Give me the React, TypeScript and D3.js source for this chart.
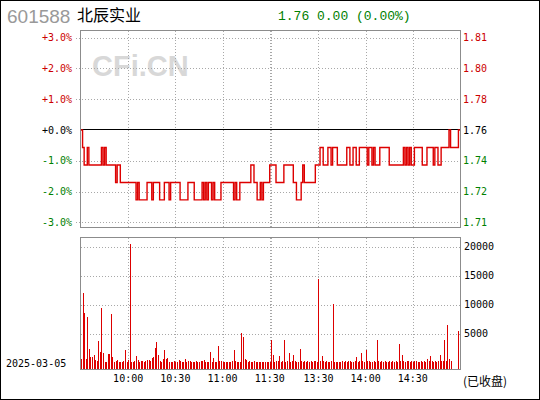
import React from "react";
import * as d3 from "d3";

// Stock identity and closing quote
const stockCode = "601588";
const stockName = "北辰实业";
const quoteText = "1.76 0.00 (0.00%)";
const tradeDate = "2025-03-05";
const statusText = "(已收盘)";
const prevClose = 1.76;

// Percentage ticks on the price pane
const pctTicks = [3, 2, 1, 0, -1, -2, -3];
// Volume ticks on the volume pane
const volTicks = [5000, 10000, 15000, 20000];

// Session time gridlines (minute index) and their labels
const timeGridIdx = [30, 60, 90, 120, 121, 151, 181, 211];
const timeLabelIdx = [30, 60, 90, 120, 151, 181, 211];
const timeLabels = ["10:00", "10:30", "11:00", "11:30", "13:30", "14:00", "14:30"];

// Minute prices 09:30-11:30, 13:00-15:00
const prices = [
  1.76, 1.75, 1.74, 1.74, 1.75, 1.74, 1.74, 1.74, 1.74, 1.74,
  1.74, 1.74, 1.74, 1.75, 1.74, 1.75, 1.74, 1.74, 1.74, 1.74,
  1.74, 1.74, 1.73, 1.74, 1.74, 1.73, 1.73, 1.73, 1.73, 1.73,
  1.73, 1.73, 1.73, 1.73, 1.73, 1.72, 1.73, 1.72, 1.72, 1.72,
  1.72, 1.72, 1.73, 1.73, 1.73, 1.72, 1.73, 1.73, 1.73, 1.73,
  1.72, 1.72, 1.72, 1.73, 1.73, 1.73, 1.72, 1.73, 1.73, 1.73,
  1.73, 1.73, 1.73, 1.72, 1.72, 1.72, 1.72, 1.72, 1.73, 1.73,
  1.73, 1.73, 1.72, 1.72, 1.72, 1.72, 1.72, 1.73, 1.72, 1.73,
  1.72, 1.73, 1.73, 1.72, 1.73, 1.72, 1.72, 1.72, 1.72, 1.73,
  1.73, 1.73, 1.73, 1.73, 1.73, 1.73, 1.73, 1.72, 1.73, 1.72,
  1.72, 1.73, 1.73, 1.73, 1.73, 1.73, 1.73, 1.73, 1.74, 1.74,
  1.73, 1.73, 1.72, 1.72, 1.73, 1.72, 1.73, 1.73, 1.73, 1.73,
  1.74, 1.74, 1.74, 1.74, 1.73, 1.73, 1.73, 1.73, 1.73, 1.74,
  1.74, 1.74, 1.74, 1.74, 1.74, 1.73, 1.73, 1.72, 1.72, 1.72,
  1.73, 1.74, 1.73, 1.73, 1.73, 1.73, 1.73, 1.73, 1.73, 1.74,
  1.74, 1.74, 1.75, 1.75, 1.74, 1.74, 1.74, 1.75, 1.75, 1.74,
  1.75, 1.75, 1.75, 1.74, 1.74, 1.74, 1.74, 1.74, 1.74, 1.75,
  1.75, 1.74, 1.74, 1.75, 1.75, 1.74, 1.74, 1.75, 1.75, 1.75,
  1.75, 1.75, 1.74, 1.75, 1.75, 1.74, 1.75, 1.74, 1.74, 1.74,
  1.75, 1.75, 1.75, 1.75, 1.75, 1.75, 1.74, 1.74, 1.74, 1.74,
  1.74, 1.74, 1.74, 1.74, 1.74, 1.75, 1.74, 1.75, 1.74, 1.75,
  1.74, 1.74, 1.75, 1.75, 1.75, 1.75, 1.75, 1.74, 1.74, 1.74,
  1.75, 1.75, 1.75, 1.75, 1.74, 1.75, 1.75, 1.74, 1.74, 1.75,
  1.75, 1.75, 1.75, 1.75, 1.76, 1.75, 1.75, 1.75, 1.75, 1.75,
  1.76, 1.76,
];

// Minute volumes (lots), same minutes as prices
const volumes = [
  750, 12200, 8680, 750, 7930, 2470, 1090, 1090, 1440, 575,
  400, 3850, 2010, 9540, 1780, 230, 230, 1610, 1610, 8500,
  1090, 230, 400, 575, 150, 230, 230, 400, 2300, 230,
  575, 20500, 150, 150, 400, 1260, 575, 230, 400, 400,
  230, 400, 575, 575, 400, 860, 1150, 2700, 3740, 1440,
  400, 150, 750, 2300, 750, 920, 150, 230, 230, 400,
  230, 230, 575, 400, 230, 230, 750, 230, 400, 400,
  230, 230, 230, 400, 230, 230, 400, 400, 575, 150,
  150, 230, 1950, 150, 920, 230, 230, 2990, 400, 400,
  230, 230, 150, 150, 230, 150, 400, 2300, 400, 230,
  150, 150, 5230, 4540, 750, 575, 150, 400, 230, 150,
  400, 230, 150, 150, 230, 150, 150, 150, 150, 150,
  150, 4020, 1440, 150, 400, 400, 1260, 230, 400, 4020,
  230, 400, 1720, 150, 400, 1440, 400, 230, 230, 2470,
  400, 230, 400, 230, 400, 230, 400, 150, 400, 400,
  230, 14540, 400, 1260, 400, 230, 400, 230, 230, 400,
  10230, 230, 150, 230, 230, 150, 400, 230, 400, 230,
  400, 400, 230, 230, 400, 1090, 230, 400, 1720, 400,
  230, 2300, 400, 400, 230, 230, 400, 230, 4020, 400,
  230, 400, 230, 400, 150, 150, 400, 230, 400, 230,
  400, 230, 3330, 400, 1440, 400, 230, 400, 400, 230,
  400, 230, 400, 400, 230, 150, 400, 230, 400, 230,
  750, 400, 1260, 400, 230, 400, 230, 400, 1440, 400,
  400, 4020, 400, 6610, 750, 390, 0, 0, 0, 0,
  5570, 0,
];

const W = 540;
const H = 400;
const plotLeft = 81;
const plotRight = 460;
const priceTop = 31;
const priceBottom = 227;
const volTop = 238;
const volBottom = 369;

const red = "#dd0000";
const labelRed = "#cc0000";
const green = "#008000";
const boxGray = "#8c8c8c";
const dotGray = "#a8a8a8";
const quoteFont = "'Liberation Mono', 'DejaVu Sans Mono', monospace";
const axisFont = "'DejaVu Sans Mono', 'Liberation Mono', monospace";
const cjkFont = "'Noto Sans CJK SC', sans-serif";

const xScale = d3.scaleLinear().domain([0, prices.length - 1]).range([plotLeft, plotRight]);
const pctScale = d3.scaleLinear().domain([-3, 3]).range([222.3, 37.7]);
const volScale = d3.scaleLinear().domain([0, 20000]).range([363.3, 247.3]);

const toPct = (p: number) => (p / prevClose - 1) * 100;
const snap = (v: number) => Math.round(v) + 0.5;

const pctLabel = (p: number) =>
  (p < 0 ? "-" : "+") + Math.abs(p).toFixed(1) + "%";
const tickColor = (p: number) => (p > 0 ? labelRed : p < 0 ? green : "#000");

export default function App() {
  const line = d3
    .line<number>()
    .x((_, i) => xScale(i))
    .y((p) => pctScale(toPct(p)))
    .curve(d3.curveStepAfter);

  return (
    <div style={{ position: "absolute", left: 0, top: 0 }}>
      <svg width={W} height={H} style={{ display: "block", background: "#fff" }}>
        <rect x={0.5} y={0.5} width={W - 1} height={H - 1} fill="#fff" stroke="#000" />

        {/* header */}
        <text x={7} y={23} fontFamily="'Liberation Sans', Arial, sans-serif" fontSize={19} fill="#999">
          {stockCode}
        </text>
        <text x={77} y={21} fontFamily={cjkFont} fontSize={16} fill="#000">
          {stockName}
        </text>
        <text x={278} y={20} fontFamily={quoteFont} fontSize={13} fill={green}>
          {quoteText}
        </text>

        {/* watermark */}
        <text
          x={92}
          y={76}
          fontFamily="'Liberation Sans', Arial, sans-serif"
          fontWeight="bold"
          fontSize={29}
          fill="#d8d8d8"
        >
          CFi.CN
        </text>

        {/* price pane grid */}
        {pctTicks.filter((p) => p !== 0).map((p) => (
          <line
            key={"hp" + p}
            x1={76}
            x2={plotRight}
            y1={snap(pctScale(p))}
            y2={snap(pctScale(p))}
            stroke={dotGray}
            strokeDasharray="1 2"
          />
        ))}
        {timeGridIdx.map((t) => (
          <line
            key={"vp" + t}
            x1={snap(xScale(t))}
            x2={snap(xScale(t))}
            y1={priceTop}
            y2={priceBottom}
            stroke={dotGray}
            strokeDasharray="1 2"
          />
        ))}
        <line
          x1={plotLeft}
          x2={plotRight}
          y1={snap(pctScale(0)) - 1}
          y2={snap(pctScale(0)) - 1}
          stroke="#000"
          strokeWidth={1.2}
        />

        {/* price line */}
        <path d={line(prices) ?? ""} fill="none" stroke={red} strokeWidth={1.4} />

        <rect
          x={plotLeft - 0.5}
          y={priceTop - 0.5}
          width={plotRight - plotLeft + 1}
          height={priceBottom - priceTop + 1}
          fill="none"
          stroke={boxGray}
        />

        {/* percentage axis (left) and price axis (right) */}
        {pctTicks.map((p) => (
          <text
            key={"lp" + p}
            x={72}
            y={pctScale(p)}
            dy="0.35em"
            textAnchor="end"
            fontFamily={axisFont}
            fontSize={10}
            fill={tickColor(p)}
          >
            {pctLabel(p)}
          </text>
        ))}
        {pctTicks.map((p) => (
          <text
            key={"rp" + p}
            x={463}
            y={pctScale(p)}
            dy="0.35em"
            fontFamily={axisFont}
            fontSize={10}
            fill={tickColor(p)}
          >
            {(prevClose * (1 + p / 100)).toFixed(2)}
          </text>
        ))}

        {/* volume pane grid */}
        {volTicks.map((v) => (
          <line
            key={"hv" + v}
            x1={plotLeft}
            x2={plotRight}
            y1={snap(volScale(v))}
            y2={snap(volScale(v))}
            stroke={dotGray}
            strokeDasharray="1 2"
          />
        ))}
        {timeGridIdx.map((t) => (
          <line
            key={"vv" + t}
            x1={snap(xScale(t))}
            x2={snap(xScale(t))}
            y1={volTop}
            y2={volBottom}
            stroke={dotGray}
            strokeDasharray="1 2"
          />
        ))}

        {/* volume bars */}
        {volumes.map((v, i) =>
          v > 0 ? (
            <rect
              key={"b" + i}
              x={Math.round(xScale(i))}
              y={volScale(v)}
              width={1}
              height={volBottom - volScale(v)}
              fill={red}
              shapeRendering="crispEdges"
            />
          ) : null
        )}

        <rect
          x={plotLeft - 0.5}
          y={volTop - 0.5}
          width={plotRight - plotLeft + 1}
          height={volBottom - volTop + 1}
          fill="none"
          stroke={boxGray}
        />

        {volTicks.map((v) => (
          <text
            key={"lv" + v}
            x={464}
            y={volScale(v) - 1}
            dy="0.35em"
            fontFamily={axisFont}
            fontSize={10}
            fill="#000"
          >
            {v}
          </text>
        ))}

        {/* time axis */}
        {timeLabelIdx.map((t, k) => (
          <text
            key={"t" + t}
            x={xScale(t)}
            y={382}
            textAnchor="middle"
            fontFamily={axisFont}
            fontSize={10}
            fill="#000"
          >
            {timeLabels[k]}
          </text>
        ))}
        <text x={6} y={367} fontFamily={axisFont} fontSize={10} fill="#000">
          {tradeDate}
        </text>
        <text x={463} y={386} fontFamily={cjkFont} fontSize={12} fill="#000">
          {statusText}
        </text>
      </svg>
    </div>
  );
}
